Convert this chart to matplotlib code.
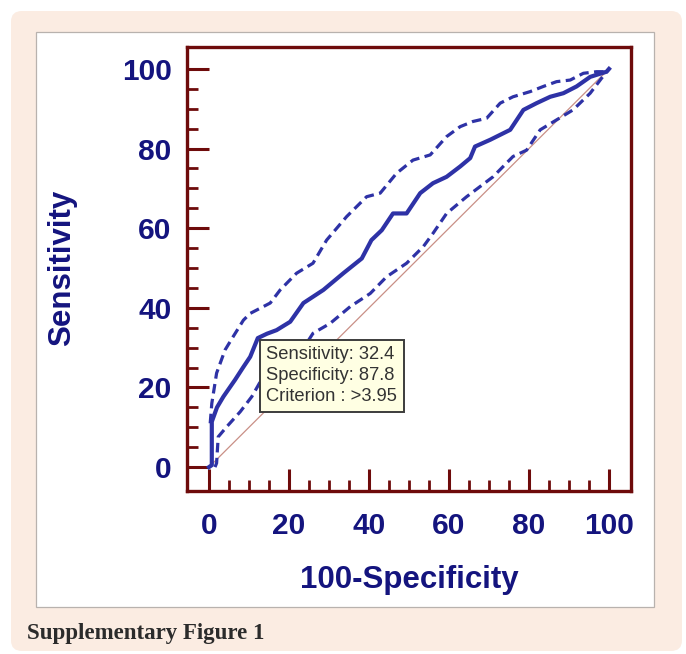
import matplotlib
matplotlib.use("Agg")
import matplotlib.pyplot as plt
from matplotlib.patches import FancyBboxPatch, Rectangle

# ── data (100-specificity, sensitivity, both in %) ──
roc_fpr = [0, 0.7, 0.7, 2.0, 3.6, 6.5, 8.5, 10.3, 12.2, 14.5, 16.9, 20.3,
           23.6, 28.6, 33.6, 38.2, 40.6, 43.2, 46.0, 49.4, 52.8, 56.0, 59.4,
           62.8, 65.3, 66.5, 70.3, 75.3, 78.6, 81.9, 85.3, 88.6, 91.9, 95.3,
           99.4, 100]
roc_sens = [0, 0.5, 11.4, 15.0, 17.7, 21.9, 25.0, 27.7, 32.4, 33.5, 34.4,
            36.5, 41.2, 44.5, 48.7, 52.4, 57.0, 59.5, 63.7, 63.7, 68.8, 71.3,
            72.9, 75.5, 77.6, 80.5, 82.2, 84.7, 89.7, 91.4, 93.0, 93.9, 95.6,
            98.0, 99.3, 100]

upper_fpr = [0.3, 0.7, 1.9, 4.0, 6.0, 8.6, 10.3, 15.3, 17.8, 21.9, 26.0,
             29.4, 34.4, 39.4, 42.8, 46.9, 51.0, 55.3, 59.4, 62.8, 66.0,
             69.4, 72.8, 76.0, 80.3, 83.6, 86.9, 90.3, 93.6, 96.9, 99.4, 100]
upper_sens = [11.0, 16.0, 23.6, 29.4, 32.7, 36.9, 38.6, 41.2, 44.5, 48.7,
              51.2, 57.0, 62.9, 67.9, 68.8, 73.8, 77.1, 78.4, 83.0, 85.5,
              86.8, 87.6, 91.4, 93.0, 94.3, 95.6, 96.8, 97.2, 98.9, 99.3,
              99.3, 100]

lower_fpr = [1.5, 1.9, 2.3, 4.4, 7.8, 10.7, 12.8, 17.8, 22.8, 26.0, 30.3,
             35.3, 40.3, 44.4, 49.4, 53.6, 56.0, 59.4, 64.4, 71.0, 76.0,
             79.4, 82.8, 86.9, 91.0, 95.3, 97.8, 99.4, 100]
lower_sens = [0.0, 1.0, 7.6, 10.1, 13.9, 17.7, 21.4, 23.5, 28.6, 33.6, 36.1,
              40.3, 43.6, 47.8, 51.2, 55.4, 58.7, 63.7, 67.9, 72.9, 78.0,
              79.6, 84.7, 87.2, 89.7, 93.9, 97.2, 99.3, 100]

diag = [0, 100]

major_ticks = [0, 20, 40, 60, 80, 100]
minor_ticks = [5, 10, 15, 25, 30, 35, 45, 50, 55, 65, 70, 75, 85, 90, 95]

cut_sens = 32.4
cut_spec = 87.8
cut_crit = ">3.95"

# ── style ──
W, H = 686, 654
navy = "#14147e"
curve = "#2e32a6"
frame = "#6e0b0b"
peach = "#fbece2"

plt.rcParams["font.family"] = ["Liberation Sans", "DejaVu Sans"]

fig = plt.figure(figsize=(W / 100, H / 100), dpi=100)
fig.patch.set_facecolor("white")


def fx(px):
    return px / W


def fy(py):
    return 1 - py / H


# peach card + white inner panel
fig.patches.append(FancyBboxPatch(
    (fx(11), fy(651)), fx(671), 640 / H,
    boxstyle="round,pad=0,rounding_size=0.016",
    transform=fig.transFigure, facecolor=peach, edgecolor="none", zorder=0))
fig.patches.append(Rectangle(
    (fx(36), fy(607)), fx(618), 575 / H, transform=fig.transFigure,
    facecolor="white", edgecolor="#b8b2ae", linewidth=0.9, zorder=1))

ax = fig.add_axes([fx(187), fy(491), fx(444), 444 / H])
ax.set_zorder(2)
ax.set_facecolor("white")

ax.plot(diag, diag, color="#c98f86", linewidth=0.9, zorder=2)
ax.plot(upper_fpr, upper_sens, color=curve, linewidth=2.3,
        linestyle=(0, (3.0, 1.7)), zorder=3)
ax.plot(lower_fpr, lower_sens, color=curve, linewidth=2.3,
        linestyle=(0, (3.0, 1.7)), zorder=3)
ax.plot(roc_fpr, roc_sens, color=curve, linewidth=3.0, zorder=4,
        solid_joinstyle="round")

ax.set_xlim(-5.5, 105.5)
ax.set_ylim(-6.0, 105.5)

for s in ax.spines.values():
    s.set_color(frame)
    s.set_linewidth(2.4)

ax.set_xticks(major_ticks)
ax.set_yticks(major_ticks)
ax.set_xticks(minor_ticks, minor=True)
ax.set_yticks(minor_ticks, minor=True)
ax.tick_params(which="major", direction="in", length=16, width=2.2,
               color=frame, labelsize=21.5, labelcolor=navy)
ax.tick_params(which="minor", direction="in", length=8, width=2.0,
               color=frame)
ax.tick_params(axis="x", which="major", pad=15)
ax.tick_params(axis="y", which="major", pad=11)
for lab in ax.get_xticklabels() + ax.get_yticklabels():
    lab.set_fontweight("bold")

fig.text(fx(409), fy(580), "100-Specificity", ha="center", va="center",
         fontsize=22.5, fontweight="bold", color=navy)
fig.text(fx(62), fy(268), "Sensitivity", ha="center", va="center",
         rotation=90, fontsize=22.5, fontweight="bold", color=navy)

# tooltip at the criterion point
ax.annotate(f"Sensitivity: {cut_sens}\nSpecificity: {cut_spec}\n"
            f"Criterion : {cut_crit}",
            xy=(100 - cut_spec, cut_sens), xytext=(6, -6),
            textcoords="offset points", ha="left", va="top",
            fontsize=13.2, color="#333333", linespacing=1.3, zorder=6,
            bbox=dict(boxstyle="square,pad=0.36", facecolor="#ffffe3",
                      edgecolor="#3c3c3c", linewidth=1.4))

fig.text(fx(27), fy(633), "Supplementary Figure 1", ha="left",
         va="center", fontsize=16.5, fontweight="bold", color="#2b2b2b",
         family=["Liberation Serif", "DejaVu Serif"])

fig.savefig("out.png", dpi=100)
